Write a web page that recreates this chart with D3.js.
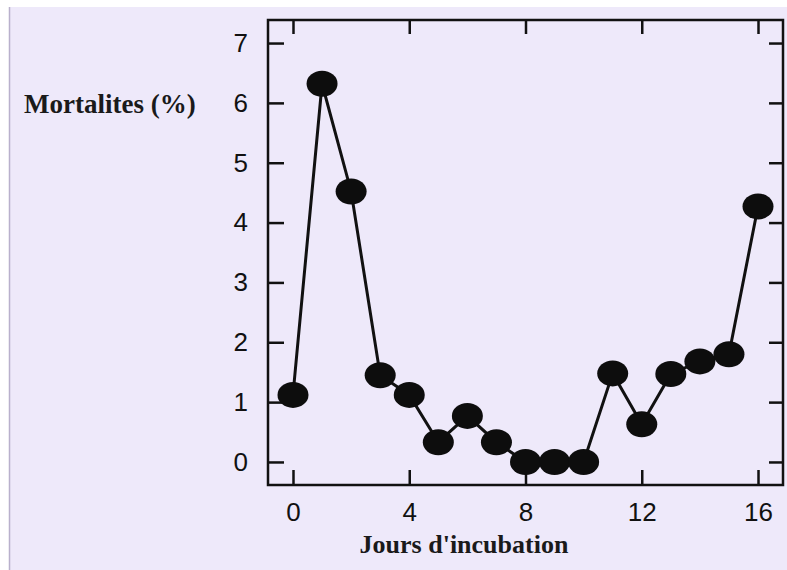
<!DOCTYPE html>
<html>
<head>
<meta charset="utf-8">
<script src="https://cdn.jsdelivr.net/npm/d3@7"></script>
<style>
  body { margin: 0; background: #ffffff; }
  .tick text { font-family: "Liberation Sans", Arial, sans-serif; font-size: 26px; fill: #111; }
  .axtitle { font-family: "Liberation Serif", "Times New Roman", serif; font-weight: bold; font-size: 26px; fill: #1a1a1a; }
</style>
</head>
<body>
<div id="chart"></div>
<script>
// Data
const days = [0, 1, 2, 3, 4, 5, 6, 7, 8, 9, 10, 11, 12, 13, 14, 15, 16];
const mortality = [1.12, 6.32, 4.52, 1.45, 1.12, 0.33, 0.77, 0.33, 0, 0, 0, 1.48, 0.63, 1.47, 1.68, 1.8, 4.27];
const xTicks = [0, 4, 8, 12, 16];
const yTicks = [0, 1, 2, 3, 4, 5, 6, 7];
const yLabel = "Mortalites (%)";
const xLabel = "Jours d'incubation";

// page & plot frame
const W = 787, H = 570;
const margin = {top: 20, right: 4, bottom: 85, left: 268},
width = W - margin.left - margin.right,
height = H - margin.top - margin.bottom;

const svg = d3.select("#chart")
    .append("svg")
    .attr("width", W)
    .attr("height", H)
    .style("display", "block");

// scanned page background: white border then lavender
svg.append("rect").attr("width", W).attr("height", H).attr("fill", "#ffffff");
svg.append("rect")
    .attr("x", 9).attr("y", 7)
    .attr("width", W - 9).attr("height", H - 7)
    .attr("fill", "#eee9fa");
svg.append("line")
    .attr("x1", 9.5).attr("x2", 9.5).attr("y1", 7).attr("y2", H)
    .attr("stroke", "#b9b0cc").attr("stroke-width", 1.5);

const g = svg.append("g")
    .attr("transform", `translate(${margin.left},${margin.top})`);

const x = d3.scaleLinear()
    .domain([-0.86, 16.86])
    .range([0, width]);

const y = d3.scaleLinear()
    .domain([-0.385, 7.385])
    .range([height, 0]);

// axes, ticks pointing inward on all four sides
g.append("g")
    .attr("class", "xAxis")
    .attr("transform", `translate(0,${height})`)
    .call(d3.axisBottom(x).tickValues(xTicks).tickSize(-15).tickPadding(18).tickFormat(d3.format("d")));

g.append("g")
    .attr("class", "yAxis")
    .call(d3.axisLeft(y).tickValues(yTicks).tickSize(-16).tickPadding(20).tickFormat(d3.format("d")));

g.append("g")
    .call(d3.axisTop(x).tickValues(xTicks).tickSize(-14).tickFormat(""));

g.append("g")
    .attr("transform", `translate(${width},0)`)
    .call(d3.axisRight(y).tickValues(yTicks).tickSize(-14).tickFormat(""));

g.selectAll(".domain").remove();
g.selectAll(".tick line").attr("stroke", "#111").attr("stroke-width", 2.5);

// frame
g.append("rect")
    .attr("width", width)
    .attr("height", height)
    .attr("fill", "none")
    .attr("stroke", "#111")
    .attr("stroke-width", 2.5);

const pts = days.map((d, i) => [d, mortality[i]]);

g.append("path")
    .datum(pts)
    .attr("fill", "none")
    .attr("stroke", "#111")
    .attr("stroke-width", 3)
    .attr("d", d3.line().x(d => x(d[0])).y(d => y(d[1])));

g.append("g")
    .selectAll("ellipse")
    .data(pts)
    .join("ellipse")
    .attr("cx", d => x(d[0]))
    .attr("cy", d => y(d[1]))
    .attr("rx", 15.5)
    .attr("ry", 13)
    .attr("fill", "#0d0d0d");

// axis titles
svg.append("text")
    .attr("class", "axtitle")
    .attr("x", 24)
    .attr("y", 113)
    .style("font-size", "27px")
    .text(yLabel);

svg.append("text")
    .attr("class", "axtitle")
    .attr("text-anchor", "middle")
    .attr("x", 464)
    .attr("y", 553)
    .text(xLabel);
</script>
</body>
</html>
